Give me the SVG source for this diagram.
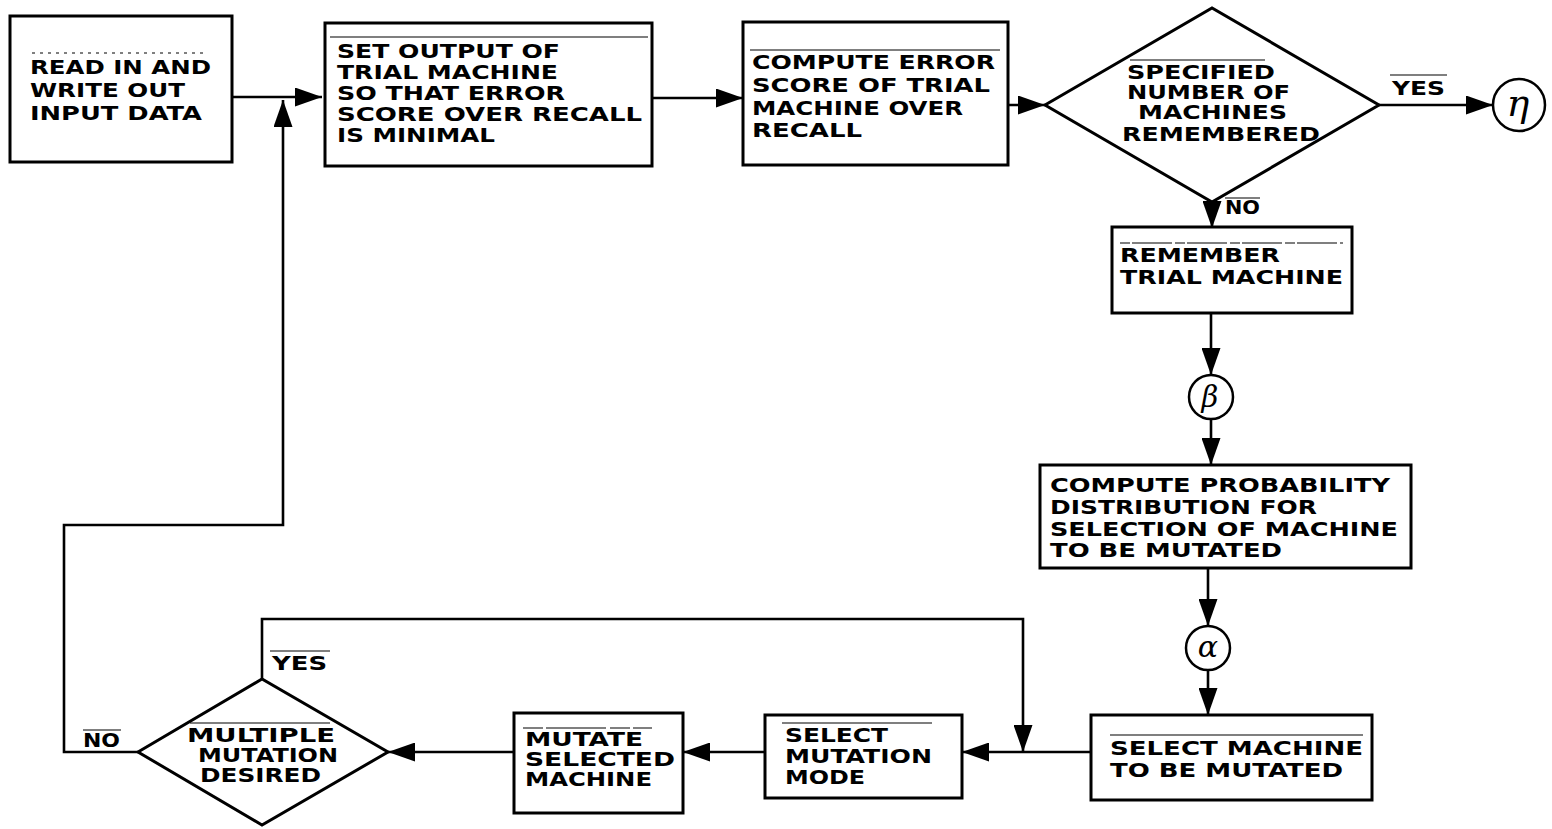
<svg xmlns="http://www.w3.org/2000/svg" width="1552" height="829" viewBox="0 0 1552 829">
  <style>
    .box { fill: #fff; stroke: #000; stroke-width: 3; }
    .dia { fill: #fff; stroke: #000; stroke-width: 3; stroke-linejoin: miter; }
    .wire { fill: none; stroke: #000; stroke-width: 2.6; }
    .ovl { stroke: #000; stroke-width: 1.2; }
    .lbl { font-family: "DejaVu Sans", "Liberation Sans", sans-serif; font-weight: bold; font-size: 19px; fill: #000; }
    .greek { font-family: "DejaVu Serif", "Liberation Serif", serif; font-style: italic; fill: #000; text-anchor: middle; }
    .conn { fill: #fff; stroke: #000; stroke-width: 2.5; }
  </style>
  <defs>
    <marker id="arrow" markerUnits="userSpaceOnUse" markerWidth="27" markerHeight="19" refX="27" refY="9.5" orient="auto">
      <path d="M0,0 L27,9.5 L0,19 Z" fill="#000"/>
    </marker>
  </defs>
  <rect width="1552" height="829" fill="#fff"/>

  <!-- connectors -->
  <g id="connectors">
    <path class="wire" d="M232,97 H322" marker-end="url(#arrow)"/>
    <path class="wire" d="M138,752 H64 V525 H283 V100" marker-end="url(#arrow)"/>
    <path class="wire" d="M652,98 H743" marker-end="url(#arrow)"/>
    <path class="wire" d="M1008,105 H1045" marker-end="url(#arrow)"/>
    <path class="wire" d="M1379,105 H1493" marker-end="url(#arrow)"/>
    <path class="wire" d="M1212,202 V228" marker-end="url(#arrow)"/>
    <path class="wire" d="M1211,313 V375" marker-end="url(#arrow)"/>
    <path class="wire" d="M1211,419 V465" marker-end="url(#arrow)"/>
    <path class="wire" d="M1208,568 V626" marker-end="url(#arrow)"/>
    <path class="wire" d="M1208,670 V715" marker-end="url(#arrow)"/>
    <path class="wire" d="M1091,752 H962" marker-end="url(#arrow)"/>
    <path class="wire" d="M262,679 V619 H1023 V752" marker-end="url(#arrow)"/>
    <path class="wire" d="M765,752 H683" marker-end="url(#arrow)"/>
    <path class="wire" d="M514,752 H388" marker-end="url(#arrow)"/>
    <!-- branch labels -->
    <line class="ovl" x1="1390" y1="75" x2="1447" y2="75"/>
    <text class="lbl" x="1392" y="95" textLength="53" lengthAdjust="spacingAndGlyphs">YES</text>
    <line class="ovl" x1="1225" y1="198" x2="1260" y2="198"/>
    <text class="lbl" x="1225" y="214" textLength="35" lengthAdjust="spacingAndGlyphs">NO</text>
    <line class="ovl" x1="270" y1="651" x2="330" y2="651"/>
    <text class="lbl" x="272" y="670" textLength="55" lengthAdjust="spacingAndGlyphs">YES</text>
    <line class="ovl" x1="83" y1="730" x2="121" y2="730"/>
    <text class="lbl" x="83" y="747" textLength="37" lengthAdjust="spacingAndGlyphs">NO</text>
  </g>

  <g id="read-input">
    <rect class="box" x="10" y="16" width="222" height="146"/>
    <line class="ovl" x1="32" y1="53" x2="205" y2="53" stroke-dasharray="3 5"/>
    <text class="lbl" x="30" y="74" textLength="181" lengthAdjust="spacingAndGlyphs">READ IN AND</text>
    <text class="lbl" x="30" y="97" textLength="155" lengthAdjust="spacingAndGlyphs">WRITE OUT</text>
    <text class="lbl" x="30" y="120" textLength="172" lengthAdjust="spacingAndGlyphs">INPUT DATA</text>
  </g>

  <g id="set-output">
    <rect class="box" x="325" y="23" width="327" height="143"/>
    <line class="ovl" x1="330" y1="37" x2="648" y2="37"/>
    <text class="lbl" x="337" y="58" textLength="223" lengthAdjust="spacingAndGlyphs">SET OUTPUT OF</text>
    <text class="lbl" x="337" y="79" textLength="221" lengthAdjust="spacingAndGlyphs">TRIAL MACHINE</text>
    <text class="lbl" x="337" y="100" textLength="228" lengthAdjust="spacingAndGlyphs">SO THAT ERROR</text>
    <text class="lbl" x="337" y="121" textLength="305" lengthAdjust="spacingAndGlyphs">SCORE OVER RECALL</text>
    <text class="lbl" x="337" y="142" textLength="158" lengthAdjust="spacingAndGlyphs">IS MINIMAL</text>
  </g>

  <g id="compute-error">
    <rect class="box" x="743" y="22" width="265" height="143"/>
    <line class="ovl" x1="750" y1="50" x2="1000" y2="50"/>
    <text class="lbl" x="752" y="69" textLength="243" lengthAdjust="spacingAndGlyphs">COMPUTE ERROR</text>
    <text class="lbl" x="752" y="92" textLength="238" lengthAdjust="spacingAndGlyphs">SCORE OF TRIAL</text>
    <text class="lbl" x="752" y="115" textLength="211" lengthAdjust="spacingAndGlyphs">MACHINE OVER</text>
    <text class="lbl" x="752" y="137" textLength="110" lengthAdjust="spacingAndGlyphs">RECALL</text>
  </g>

  <g id="machines-remembered">
    <polygon class="dia" points="1045,105 1212,8 1379,105 1212,202"/>
    <line class="ovl" x1="1130" y1="60" x2="1265" y2="60"/>
    <text class="lbl" x="1127" y="79" textLength="148" lengthAdjust="spacingAndGlyphs">SPECIFIED</text>
    <text class="lbl" x="1127" y="99" textLength="163" lengthAdjust="spacingAndGlyphs">NUMBER OF</text>
    <text class="lbl" x="1138" y="119" textLength="149" lengthAdjust="spacingAndGlyphs">MACHINES</text>
    <text class="lbl" x="1122" y="141" textLength="198" lengthAdjust="spacingAndGlyphs">REMEMBERED</text>
  </g>

  <g id="connector-eta">
    <circle class="conn" cx="1519" cy="105" r="26"/>
    <text class="greek" x="1518" y="116" font-size="38">η</text>
  </g>

  <g id="remember-trial">
    <rect class="box" x="1112" y="227" width="240" height="86"/>
    <line class="ovl" x1="1120" y1="243" x2="1343" y2="243" stroke-dasharray="10 2 40 3"/>
    <text class="lbl" x="1120" y="262" textLength="160" lengthAdjust="spacingAndGlyphs">REMEMBER</text>
    <text class="lbl" x="1120" y="284" textLength="223" lengthAdjust="spacingAndGlyphs">TRIAL MACHINE</text>
  </g>

  <g id="connector-beta">
    <circle class="conn" cx="1211" cy="397" r="22"/>
    <text class="greek" x="1210" y="407" font-size="29">β</text>
  </g>

  <g id="compute-probability">
    <rect class="box" x="1040" y="465" width="371" height="103"/>
    <text class="lbl" x="1050" y="492" textLength="340" lengthAdjust="spacingAndGlyphs">COMPUTE PROBABILITY</text>
    <text class="lbl" x="1050" y="514" textLength="267" lengthAdjust="spacingAndGlyphs">DISTRIBUTION FOR</text>
    <text class="lbl" x="1050" y="536" textLength="348" lengthAdjust="spacingAndGlyphs">SELECTION OF MACHINE</text>
    <text class="lbl" x="1050" y="557" textLength="232" lengthAdjust="spacingAndGlyphs">TO BE MUTATED</text>
  </g>

  <g id="connector-alpha">
    <circle class="conn" cx="1208" cy="648" r="22"/>
    <text class="greek" x="1208" y="657" font-size="30">α</text>
  </g>

  <g id="select-machine">
    <rect class="box" x="1091" y="715" width="281" height="85"/>
    <line class="ovl" x1="1110" y1="735" x2="1363" y2="735"/>
    <text class="lbl" x="1110" y="755" textLength="253" lengthAdjust="spacingAndGlyphs">SELECT MACHINE</text>
    <text class="lbl" x="1110" y="777" textLength="233" lengthAdjust="spacingAndGlyphs">TO BE MUTATED</text>
  </g>

  <g id="select-mode">
    <rect class="box" x="765" y="715" width="197" height="83"/>
    <line class="ovl" x1="782" y1="723" x2="932" y2="723"/>
    <text class="lbl" x="785" y="742" textLength="103" lengthAdjust="spacingAndGlyphs">SELECT</text>
    <text class="lbl" x="785" y="763" textLength="147" lengthAdjust="spacingAndGlyphs">MUTATION</text>
    <text class="lbl" x="785" y="784" textLength="80" lengthAdjust="spacingAndGlyphs">MODE</text>
  </g>

  <g id="mutate-selected">
    <rect class="box" x="514" y="713" width="169" height="100"/>
    <line class="ovl" x1="523" y1="728" x2="652" y2="728" stroke-dasharray="20 3 60 4"/>
    <text class="lbl" x="525" y="746" textLength="118" lengthAdjust="spacingAndGlyphs">MUTATE</text>
    <text class="lbl" x="525" y="766" textLength="150" lengthAdjust="spacingAndGlyphs">SELECTED</text>
    <text class="lbl" x="525" y="786" textLength="127" lengthAdjust="spacingAndGlyphs">MACHINE</text>
  </g>

  <g id="multiple-mutation">
    <polygon class="dia" points="138,752 262,679 388,752 262,825"/>
    <line class="ovl" x1="190" y1="723" x2="330" y2="723"/>
    <text class="lbl" x="187" y="742" textLength="148" lengthAdjust="spacingAndGlyphs">MULTIPLE</text>
    <text class="lbl" x="198" y="762" textLength="140" lengthAdjust="spacingAndGlyphs">MUTATION</text>
    <text class="lbl" x="200" y="782" textLength="121" lengthAdjust="spacingAndGlyphs">DESIRED</text>
  </g>
</svg>
